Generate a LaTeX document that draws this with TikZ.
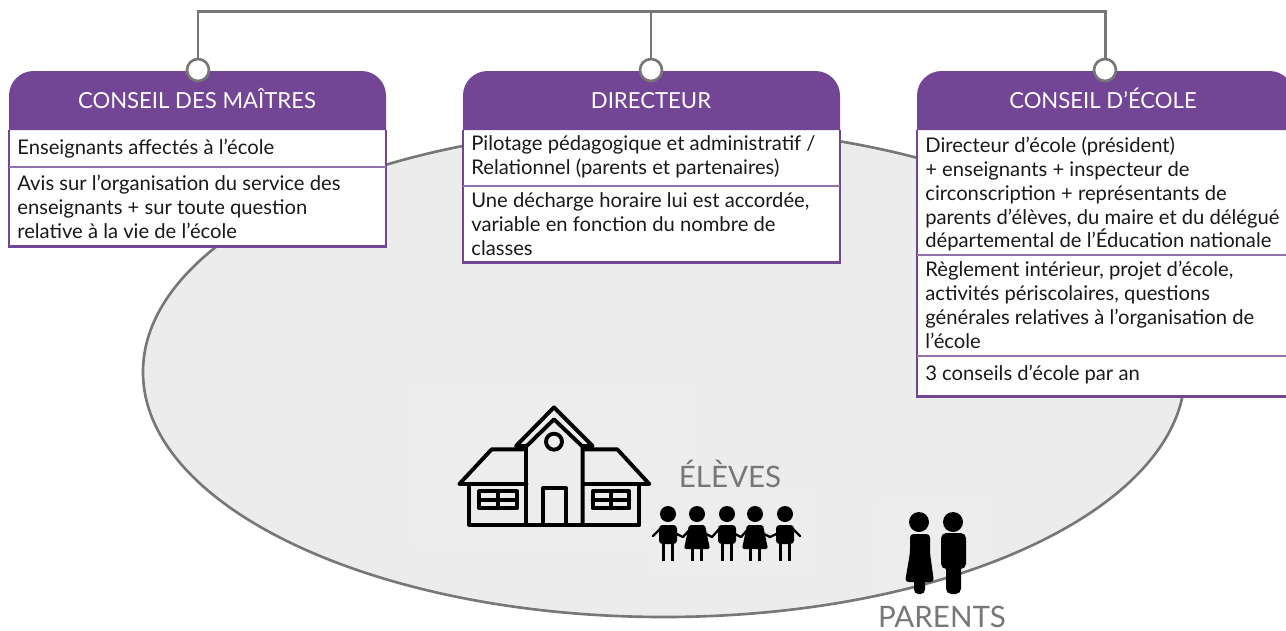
\documentclass[tikz,border=0pt]{standalone}
\usepackage{fontspec}
\setmainfont{Lato}
\definecolor{violet}{HTML}{734595}
\definecolor{violetclair}{HTML}{9272AC}
\definecolor{gristrait}{HTML}{777777}
\definecolor{grisfond}{HTML}{ECECEC}
\definecolor{grisimage}{HTML}{EDEDED}
\tikzset{
  lien/.style={gristrait,line width=1.7pt},
  pastille/.style={circle,draw=gristrait,fill=white,line width=1.5pt,minimum size=12.5pt,inner sep=0pt},
  titre/.style={text=white,anchor=base,font=\fontsize{12.6}{14}\selectfont,inner sep=0pt},
  corps/.style={anchor=west,align=left,inner sep=0pt,text=black!90,font=\fontsize{11.5}{13.6}\selectfont},
  legende/.style={text=gristrait,anchor=base,font=\fontsize{16.8}{20}\selectfont,inner sep=0pt},
  cadre/.style={violet,line width=1.7pt},
  filet/.style={violetclair,line width=1.3pt},
  icone/.style={black,line width=2.2pt,line join=round,line cap=round},
}
\begin{document}
\begin{tikzpicture}[x=0.02cm,y=-0.02cm]
\useasboundingbox (0,0) rectangle (1286,630);

\fill[grisfond] (664,372) ellipse (521 and 245);
\begin{scope}
\clip (664,372) ellipse (521 and 245);
\fill[grisimage] (412,390) rectangle (695,545);
\fill[grisimage] (650,495) rectangle (815,570);
\fill[grisimage] (877,503) rectangle (992,620);
\end{scope}
\draw[gristrait,line width=1.5pt] (664,372) ellipse (521 and 245);

%left
\fill[white] (9,130) rectangle (386,246);
\draw[cadre] (9,130) -- (9,246) -- (386,246) -- (386,130);
\fill[violet] (9,130) {[rounded corners=14pt] -- (9,71) -- (386,71)} -- (386,130) -- cycle;
\draw[filet] (9,167) -- (386,167);
\node[titre] (titreM) at (197,108) {CONSEIL DES MAÎTRES};
\node[corps] (membresM) at (17,149) {Enseignants affectés à l’école};
\node[corps] (roleM) at (17,207) {Avis sur l’organisation du service des\\enseignants + sur toute question\\relative à la vie de l’école};

%middle
\fill[white] (463,130) rectangle (840,262);
\draw[cadre] (463,130) -- (463,262) -- (840,262) -- (840,130);
\fill[violet] (463,130) {[rounded corners=14pt] -- (463,71) -- (840,71)} -- (840,130) -- cycle;
\draw[filet] (463,186) -- (840,186);
\node[titre] (titreD) at (651,108) {DIRECTEUR};
\node[corps] (membresD) at (471,157) {Pilotage pédagogique et administratif /\\Relationnel (parents et partenaires)};
\node[corps] (roleD) at (471,224) {Une décharge horaire lui est accordée,\\variable en fonction du nombre de\\classes};

%right
\fill[white] (917,130) rectangle (1294,396);
\draw[cadre] (917,130) -- (917,396) -- (1294,396) -- (1294,130);
\fill[violet] (917,130) {[rounded corners=14pt] -- (917,71) -- (1294,71)} -- (1294,130) -- cycle;
\draw[filet] (917,255) -- (1294,255);
\draw[filet] (917,356) -- (1294,356);
\node[titre] (titreE) at (1103,108) {CONSEIL D’ÉCOLE};
\node[corps] (membresE) at (925,194) {Directeur d’école (président)\\+ enseignants + inspecteur de\\circonscription + représentants de\\parents d’élèves, du maire et du délégué\\départemental de l’Éducation nationale};
\node[corps] (roleE) at (925,305) {Règlement intérieur, projet d’école,\\activités périscolaires, questions\\générales relatives à l’organisation de\\l’école};
\node[corps] (rythmeE) at (925,375) {3 conseils d’école par an};

%connectors
\node[pastille] (pointM) at (198,70) {};
\node[pastille] (pointD) at (651,70) {};
\node[pastille] (pointE) at (1105,70) {};
\coordinate (hautM) at (198,11);
\coordinate (hautD) at (651,11);
\coordinate (hautE) at (1105,11);
\draw[lien] (pointM) -- (hautM) -- (hautE) -- (pointE);
\draw[lien] (pointD) -- (hautD);

%school
\begin{scope}[shift={(420,390)},x=0.00667cm,y=-0.00667cm,icone]
\draw (310,178) -- (215,178) -- (118,282) -- (320,282);
\draw (490,178) -- (592,178) -- (688,282) -- (490,282);
\draw (318,400) -- (318,170) -- (402,88) -- (488,170) -- (488,400);
\draw (318,168) -- (288,168) -- (402,52) -- (518,168) -- (488,168);
\draw (148,285) -- (148,405) -- (658,405) -- (658,285);
\draw (368,400) -- (368,295) -- (438,295) -- (438,400);
\draw (402,155) circle (24);
\draw (178,304) rectangle (290,355);
\draw (178,330) -- (290,330);
\draw (234,304) -- (234,355);
\draw (518,304) rectangle (628,355);
\draw (518,330) -- (628,330);
\draw (574,304) -- (574,355);
\end{scope}

%children
\draw[black,line width=1.3pt,line join=round,line cap=round] (653,536) -- (662,527) -- (683,537) -- (692,527) -- (712,537) -- (721,527) -- (741,537) -- (750,527) -- (770,537) -- (791,527) -- (800,536);
\foreach \x in {668,727,785} {
  \fill (\x,514) circle (8);
  \fill[rounded corners=2pt] (\x-9,525) rectangle (\x+9,544);
  \draw[line width=1.9pt] (\x-4.5,542) -- (\x-4.5,561);
  \draw[line width=1.9pt] (\x+4.5,542) -- (\x+4.5,561);
}
\foreach \x in {697,755} {
  \fill (\x,514) circle (8);
  \fill[rounded corners=1pt] (\x-8,525) -- (\x+8,525) -- (\x+13,549) -- (\x-13,549) -- cycle;
  \draw[line width=1.9pt] (\x-4.5,547) -- (\x-4.5,561);
  \draw[line width=1.9pt] (\x+4.5,547) -- (\x+4.5,561);
}
\node[legende] (eleves) at (730,487) {ÉLÈVES};

%parents
\fill (919,522) circle (10);
\fill (953,522) circle (10);
\fill[rounded corners=2pt] (910,534) -- (930,534) -- (930,553) -- (934,582) -- (905,582) -- (910,553) -- cycle;
\fill[rounded corners=2.5pt] (914,575) rectangle (925,594);
\fill[rounded corners=3pt] (941,533) rectangle (966,569);
\fill[rounded corners=3pt] (946,560) rectangle (961,594);
\node[legende] (parents) at (942,627) {PARENTS};
\end{tikzpicture}
\end{document}
